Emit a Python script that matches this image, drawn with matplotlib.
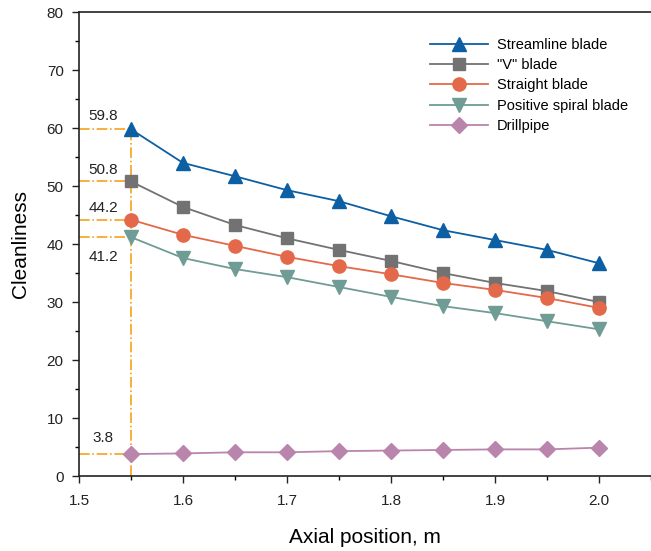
import matplotlib.pyplot as plt
from matplotlib.ticker import MultipleLocator

plt.rcParams['font.family'] = ['Liberation Sans', 'DejaVu Sans']

# axial positions
x = [1.55, 1.60, 1.65, 1.70, 1.75, 1.80, 1.85, 1.90, 1.95, 2.00]

streamline = [59.8, 54.0, 51.7, 49.3, 47.4, 44.8, 42.4, 40.7, 39.0, 36.7]
v_blade = [50.8, 46.4, 43.3, 41.0, 39.0, 37.1, 35.0, 33.3, 31.9, 30.0]
straight = [44.2, 41.6, 39.7, 37.8, 36.2, 34.8, 33.3, 32.1, 30.7, 29.0]
spiral = [41.2, 37.6, 35.7, 34.3, 32.6, 30.9, 29.3, 28.1, 26.7, 25.3]
drillpipe = [3.8, 3.9, 4.1, 4.1, 4.3, 4.4, 4.5, 4.6, 4.6, 4.9]

labels = ['Streamline blade', '"V" blade', 'Straight blade',
          'Positive spiral blade', 'Drillpipe']
colors = ['#0d5fa3', '#727272', '#e3694a', '#6f9c94', '#b985ad']
markers = ['^', 's', 'o', 'v', 'D']
msizes = [10, 8.5, 9.5, 10, 8.5]

# values marked on the first point
marked = [59.8, 50.8, 44.2, 41.2, 3.8]
marked_text_y = [62.1, 52.8, 46.2, 37.8, 6.6]

fig = plt.figure(figsize=(6.51, 5.51), dpi=100)
ax = fig.add_axes([0.1213, 0.136, 0.8787, 0.842])

series = [streamline, v_blade, straight, spiral, drillpipe]
for ys, lab, c, m, ms in zip(series, labels, colors, markers, msizes):
    ax.plot(x, ys, color=c, marker=m, markersize=ms, linewidth=1.3,
            label=lab, zorder=3)

# orange guide lines
oc = '#f7a21b'
ax.plot([x[0], x[0]], [0, marked[0]], color=oc, linestyle='-.',
        linewidth=1.2, zorder=2)
for v, ty in zip(marked, marked_text_y):
    ax.plot([1.5, x[0]], [v, v], color=oc, linestyle='-.',
            linewidth=1.2, zorder=2)
    ax.text(1.5235, ty, f'{v}', ha='center', va='center', fontsize=11,
            color='#222222')

ax.set_xlim(1.5, 2.05)
ax.set_ylim(0, 80)
ax.xaxis.set_major_locator(MultipleLocator(0.1))
ax.xaxis.set_minor_locator(MultipleLocator(0.05))
ax.yaxis.set_major_locator(MultipleLocator(10))
ax.yaxis.set_minor_locator(MultipleLocator(5))
ax.set_xticks([1.5, 1.6, 1.7, 1.8, 1.9, 2.0])
ax.set_xticklabels(['1.5', '1.6', '1.7', '1.8', '1.9', '2.0'])
ax.tick_params(which='major', direction='out', length=5, width=1,
               labelsize=11, colors='#222222')
ax.tick_params(axis='x', which='major', pad=8)
ax.tick_params(axis='y', which='major', pad=6)
ax.tick_params(which='minor', direction='out', length=3, width=1)
for s in ax.spines.values():
    s.set_linewidth(1.2)
    s.set_color('#222222')
ax.spines['right'].set_visible(False)

ax.set_xlabel('Axial position, m', fontsize=15, labelpad=14)
ax.set_ylabel('Cleanliness', fontsize=15, labelpad=12)

ax.legend(loc='upper left', bbox_to_anchor=(0.591, 0.972), frameon=False,
          fontsize=10.5, handlelength=4.0, labelspacing=0.42,
          handletextpad=0.6)

fig.savefig('out.png', dpi=100)
